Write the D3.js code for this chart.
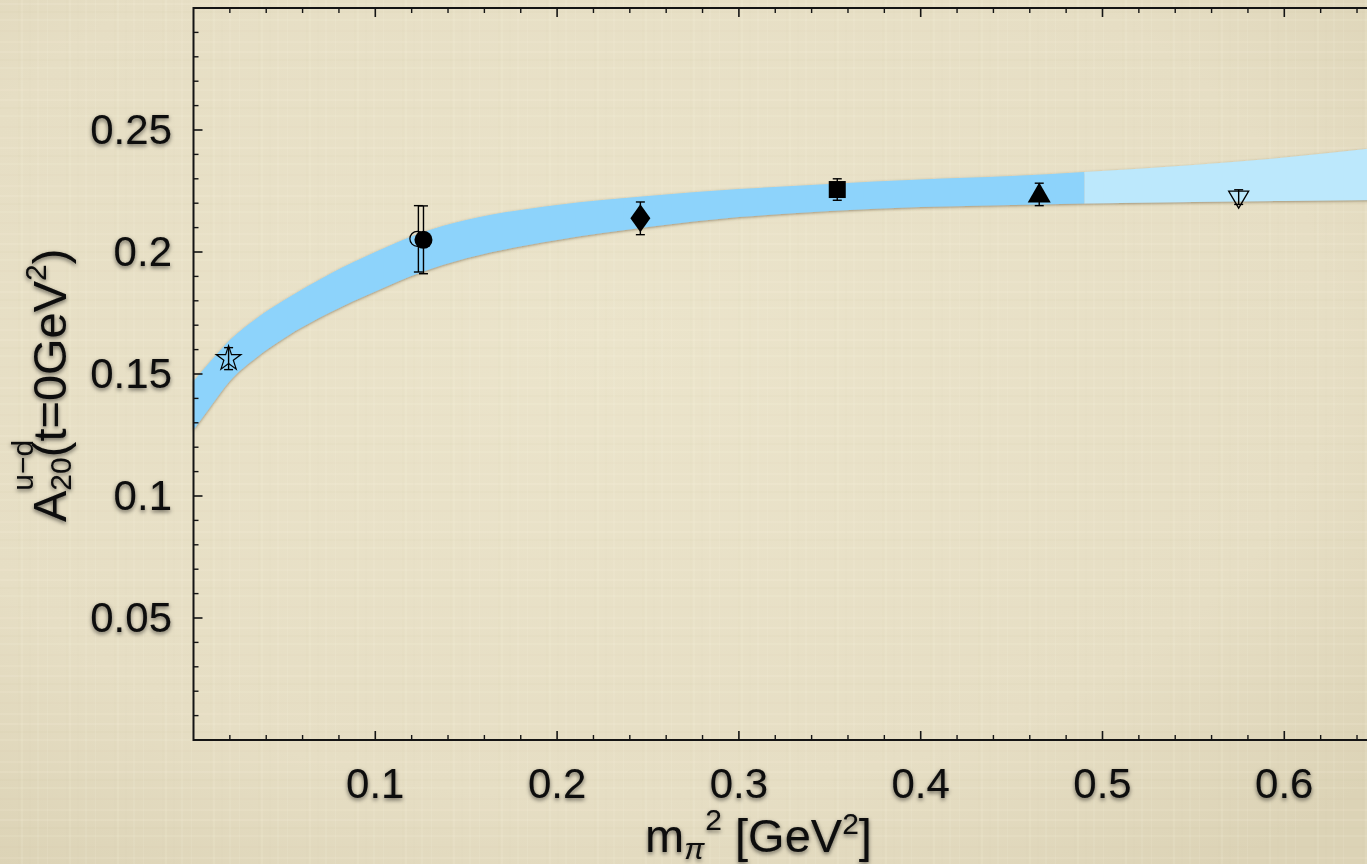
<!DOCTYPE html>
<html>
<head>
<meta charset="utf-8">
<script src="https://cdn.jsdelivr.net/npm/d3@7"></script>
<style>
    body { margin: 0; overflow: hidden; background: #e6dec5; }
    #container { width: 1367px; height: 864px; }
</style>
</head>
<body>
<div id="container"></div>
<script>
// band (chiral fit), upper and lower edge
const bandX = [0, 0.01, 0.02, 0.035, 0.05, 0.075, 0.1, 0.125, 0.15, 0.2, 0.25, 0.3, 0.35, 0.4, 0.45, 0.49, 0.55, 0.6, 0.65];
const bandUpper = [0.1470, 0.1557, 0.1639, 0.1730, 0.1803, 0.1910, 0.2000, 0.2078, 0.2131, 0.2193, 0.2230, 0.2258, 0.2279, 0.2297, 0.2311, 0.2328, 0.2357, 0.2387, 0.2426];
const bandLower = [0.1270, 0.1373, 0.1471, 0.1570, 0.1648, 0.1752, 0.1838, 0.1916, 0.1974, 0.2049, 0.2102, 0.2143, 0.2168, 0.2184, 0.2193, 0.2199, 0.2205, 0.2209, 0.2213];
const bandSplit = 0.49;

// lattice points
const pointShapes = ['star', 'openCircle', 'filledCircle', 'diamond', 'square', 'triangleUp', 'triangleDown'];
const pointX = [0.0193, 0.1237, 0.1265, 0.2458, 0.3541, 0.4652, 0.5749];
const pointY = [0.1563, 0.2054, 0.2050, 0.2138, 0.2256, 0.2236, 0.2225];
const pointErr = [0.0045, 0.0136, 0.0139, 0.0067, 0.0044, 0.0046, 0.0030];

const xMajor = [0.1, 0.2, 0.3, 0.4, 0.5, 0.6];
const yMajor = [0.05, 0.1, 0.15, 0.2, 0.25];

const W = 1367, H = 864;
const x = d3.scaleLinear().domain([0, 0.65]).range([193.5, 1375.2]);
const y = d3.scaleLinear().domain([0, 0.3]).range([740, 8]);

const svg = d3.select('#container')
    .append('svg')
    .attr('width', W)
    .attr('height', H);

const defs = svg.append('defs');

// background: soft linen look
const bg = defs.append('radialGradient').attr('id', 'bgGrad')
    .attr('cx', '45%').attr('cy', '40%').attr('r', '75%');
bg.append('stop').attr('offset', '0%').attr('stop-color', '#ebe4cb');
bg.append('stop').attr('offset', '70%').attr('stop-color', '#e6dec4');
bg.append('stop').attr('offset', '100%').attr('stop-color', '#dcd3b6');

const pat = defs.append('pattern').attr('id', 'linen')
    .attr('width', 48).attr('height', 48).attr('patternUnits', 'userSpaceOnUse');
[[3, '#fffbe8', 0.12], [11, '#b8a77e', 0.035], [19, '#fffbe8', 0.09], [30, '#b8a77e', 0.03], [41, '#fffbe8', 0.1]].forEach(([p, c, o]) => {
    pat.append('rect').attr('x', 0).attr('y', p).attr('width', 48).attr('height', 2).attr('fill', c).attr('opacity', o);
    pat.append('rect').attr('x', (p * 7) % 48).attr('y', 0).attr('width', 2).attr('height', 48).attr('fill', c).attr('opacity', o * 0.8);
});

svg.append('rect').attr('width', W).attr('height', H).attr('fill', 'url(#bgGrad)');
svg.append('rect').attr('width', W).attr('height', H).attr('fill', 'url(#linen)');

// filters
const shadow = defs.append('filter').attr('id', 'textShadow')
    .attr('x', '-20%').attr('y', '-30%').attr('width', '140%').attr('height', '160%');
shadow.append('feDropShadow').attr('dx', 0).attr('dy', 2).attr('stdDeviation', 2.2)
    .attr('flood-color', '#000').attr('flood-opacity', 0.55);

const bandShadow = defs.append('filter').attr('id', 'bandShadow')
    .attr('x', '-5%').attr('y', '-20%').attr('width', '110%').attr('height', '140%');
bandShadow.append('feDropShadow').attr('dx', 0).attr('dy', 1).attr('stdDeviation', 1.6)
    .attr('flood-color', '#5a4a2a').attr('flood-opacity', 0.55);

// clip band into the two shades
defs.append('clipPath').attr('id', 'clipDark').append('rect')
    .attr('x', x(0)).attr('y', 0).attr('width', x(bandSplit) - x(0)).attr('height', H);
defs.append('clipPath').attr('id', 'clipLight').append('rect')
    .attr('x', x(bandSplit)).attr('y', 0).attr('width', W).attr('height', H);

const bandData = bandX.map((v, i) => ({ x: v, lo: bandLower[i], hi: bandUpper[i] }));
const area = d3.area()
    .x(d => x(d.x))
    .y0(d => y(d.lo))
    .y1(d => y(d.hi))
    .curve(d3.curveMonotoneX);

const bandG = svg.append('g').attr('filter', 'url(#bandShadow)');
bandG.append('path').datum(bandData).attr('d', area)
    .attr('fill', '#8dd3fb').attr('clip-path', 'url(#clipDark)');
bandG.append('path').datum(bandData).attr('d', area)
    .attr('fill', '#bce8fc').attr('clip-path', 'url(#clipLight)');

// frame and ticks
const axisColor = '#141414';
const frame = svg.append('g').attr('stroke', axisColor).attr('fill', 'none');
frame.append('path')
    .attr('d', `M${x.range()[1] + 20},${y(0.3)}H${x(0)}V${y(0)}H${x.range()[1] + 20}`)
    .attr('stroke-width', 2);

const minorX = d3.range(0.02, 0.66, 0.02).filter(v => Math.abs(v * 10 - Math.round(v * 10)) > 1e-6);
const minorY = d3.range(0.01, 0.3, 0.01).filter(v => Math.abs(v * 20 - Math.round(v * 20)) > 1e-6);

function drawTicks(vals, len, width) {
    vals.forEach(v => {
        frame.append('line').attr('x1', x(v)).attr('x2', x(v))
            .attr('y1', y(0)).attr('y2', y(0) - len).attr('stroke-width', width);
        frame.append('line').attr('x1', x(v)).attr('x2', x(v))
            .attr('y1', y(0.3)).attr('y2', y(0.3) + len).attr('stroke-width', width);
    });
}
drawTicks(xMajor, 9, 1.6);
drawTicks(minorX, 5, 1.4);
yMajor.forEach(v => {
    frame.append('line').attr('x1', x(0)).attr('x2', x(0) + 9)
        .attr('y1', y(v)).attr('y2', y(v)).attr('stroke-width', 1.6);
});
minorY.forEach(v => {
    frame.append('line').attr('x1', x(0)).attr('x2', x(0) + 5)
        .attr('y1', y(v)).attr('y2', y(v)).attr('stroke-width', 1.4);
});

// tick labels
const labelFont = "'Liberation Sans', Arial, Helvetica, sans-serif";
const labels = svg.append('g')
    .attr('font-family', labelFont)
    .attr('font-size', 42)
    .attr('fill', '#0a0a0a')
    .attr('filter', 'url(#textShadow)');

labels.selectAll('.xl').data(xMajor).join('text')
    .attr('x', d => x(d))
    .attr('y', 798)
    .attr('text-anchor', 'middle')
    .text(d => d3.format('.1f')(d));

labels.selectAll('.yl').data(yMajor).join('text')
    .attr('x', 172)
    .attr('y', d => y(d) + 14)
    .attr('text-anchor', 'end')
    .text(d => String(d));

// axis titles
const xt = labels.append('text').attr('x', 645).attr('y', 852).attr('font-size', 47);
xt.append('tspan').text('m');
xt.append('tspan').attr('font-size', 30).attr('font-style', 'italic').attr('dy', 7).text('π');
xt.append('tspan').attr('font-size', 30).attr('dx', 1).attr('dy', -29).text('2');
xt.append('tspan').attr('dy', 22).text(' [GeV');
xt.append('tspan').attr('font-size', 30).attr('dy', -18).text('2');
xt.append('tspan').attr('dy', 18).text(']');

const yt = labels.append('text')
    .attr('transform', 'translate(66,522) rotate(-90)')
    .attr('font-size', 47);
yt.append('tspan').text('A');
const supT = yt.append('tspan').attr('font-size', 30).attr('dy', -33).text('u−d');
const supW = supT.node().getComputedTextLength();
yt.append('tspan').attr('font-size', 30).attr('dx', -supW).attr('dy', 38).text('20');
yt.append('tspan').attr('dy', -5).text('(t=0GeV');
yt.append('tspan').attr('font-size', 30).attr('dy', -20).text('2');
yt.append('tspan').attr('dy', 20).text(')');

// data points with error bars
const pts = svg.append('g');
pointShapes.forEach((shape, i) => {
    const px = x(pointX[i]);
    const py = y(pointY[i]);
    const top = y(pointY[i] + pointErr[i]);
    const bot = y(pointY[i] - pointErr[i]);
    const eb = pts.append('g').attr('stroke', '#000').attr('stroke-width', 1.4);
    eb.append('line').attr('x1', px).attr('x2', px).attr('y1', top).attr('y2', bot);
    eb.append('line').attr('x1', px - 4.5).attr('x2', px + 4.5).attr('y1', top).attr('y2', top);
    eb.append('line').attr('x1', px - 4.5).attr('x2', px + 4.5).attr('y1', bot).attr('y2', bot);

    const g = pts.append('g').attr('transform', `translate(${px},${py})`);
    if (shape === 'star') {
        g.append('path').attr('d', d3.symbol(d3.symbolStar, 190)())
            .attr('fill', 'none').attr('stroke', '#000').attr('stroke-width', 1.2);
    } else if (shape === 'openCircle') {
        g.append('circle').attr('r', 7.5).attr('cx', -1)
            .attr('fill', 'none').attr('stroke', '#000').attr('stroke-width', 1.3);
    } else if (shape === 'filledCircle') {
        g.append('circle').attr('r', 9).attr('fill', '#000');
    } else if (shape === 'diamond') {
        g.append('path').attr('d', 'M0,-14L10,0L0,14L-10,0Z').attr('fill', '#000');
    } else if (shape === 'square') {
        g.append('rect').attr('x', -8.5).attr('y', -8.5).attr('width', 17).attr('height', 17).attr('fill', '#000');
    } else if (shape === 'triangleUp') {
        g.append('path').attr('d', 'M0,-12L11.5,8L-11.5,8Z').attr('fill', '#000');
    } else if (shape === 'triangleDown') {
        g.append('path').attr('d', 'M-10,-6L10,-6L0,11Z')
            .attr('fill', 'none').attr('stroke', '#000').attr('stroke-width', 1.3);
    }
});
</script>
</body>
</html>
